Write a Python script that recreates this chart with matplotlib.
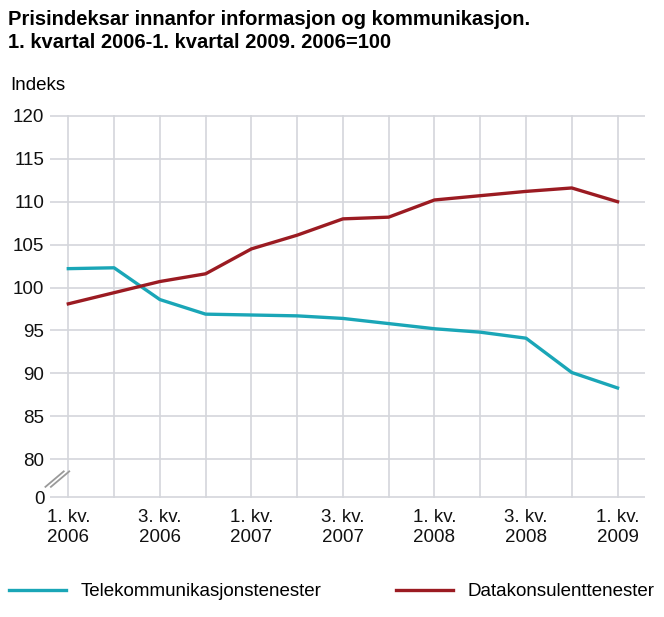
import matplotlib.pyplot as plt

plt.rcParams["font.family"] = "Liberation Sans"

quarters = ["1. kv.\n2006", "", "3. kv.\n2006", "", "1. kv.\n2007", "", "3. kv.\n2007", "",
            "1. kv.\n2008", "", "3. kv.\n2008", "", "1. kv.\n2009"]
telekom = [102.2, 102.3, 98.6, 96.9, 96.8, 96.7, 96.4, 95.8, 95.2, 94.8, 94.1, 90.1, 88.3]
datakons = [98.1, 99.4, 100.7, 101.6, 104.5, 106.1, 108.0, 108.2, 110.2, 110.7, 111.2, 111.6, 110.0]

# axis break: "0" drawn a bit below 80
zero_pos = 80 - 38 / 43 * 5

fig = plt.figure(figsize=(6.64, 6.17), dpi=100)
ax = fig.add_axes([50 / 664, 1 - 498 / 617, 595 / 664, 383 / 617])

x = range(len(quarters))
ax.plot(x, telekom, color="#1aa6b7", lw=2.4, label="Telekommunikasjonstenester")
ax.plot(x, datakons, color="#9b1b22", lw=2.4, label="Datakonsulenttenester")

ax.set_xlim(-0.4, 12.6)
ax.set_ylim(zero_pos - 0.1, 120.1)
yt = [zero_pos] + list(range(80, 121, 5))
ax.set_yticks(yt)
ax.set_yticklabels(["0"] + [str(v) for v in range(80, 121, 5)])
ax.set_xticks(list(x))
ax.set_xticklabels(quarters)
ax.grid(True, color="#d4d6dc", lw=1.2)
ax.set_axisbelow(True)
for s in ax.spines.values():
    s.set_visible(False)
ax.tick_params(length=0, labelsize=13.5, colors="#111111", pad=4)
ax.tick_params(axis="x", pad=8)

# break marks
for dx in (0, 0.12):
    ax.plot([-0.5 + dx, -0.1 + dx], [zero_pos + 1.2, zero_pos + 3.0],
            color="#9a9a9a", lw=1.3, clip_on=False)

fig.text(8 / 664, 1 - 10 / 617, "Prisindeksar innanfor informasjon og kommunikasjon.\n1. kvartal 2006-1. kvartal 2009. 2006=100",
         fontsize=14.5, fontweight="bold", va="top", linespacing=1.25)
fig.text(10 / 664, 1 - 86 / 617, "Indeks", fontsize=13.5, va="center")

fig.legend(loc="lower center", ncol=2, frameon=False, fontsize=13.5,
           bbox_to_anchor=(0.5, 0.0), columnspacing=4, handlelength=3)

fig.savefig("out.png", dpi=100)
